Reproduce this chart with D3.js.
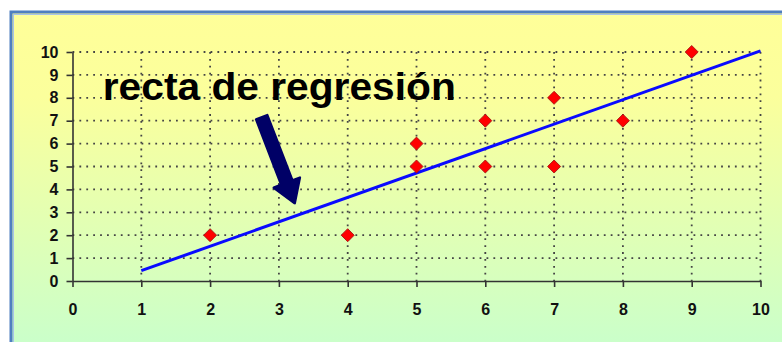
<!DOCTYPE html>
<html>
<head>
<meta charset="utf-8">
<script src="https://cdn.jsdelivr.net/npm/d3@7"></script>
<style>
  html, body { margin: 0; padding: 0; background: #fff; }
  svg { display: block; }
</style>
</head>
<body>
<div id="chart"></div>
<script>
// data
const pointsX = [2, 4, 5, 5, 6, 6, 7, 7, 8, 9];
const pointsY = [2, 2, 5, 6, 5, 7, 5, 8, 7, 10];
const lineX = [1, 10];
const lineY = [0.45, 10.05];
const xTicks = [0, 1, 2, 3, 4, 5, 6, 7, 8, 9, 10];
const yTicks = [0, 1, 2, 3, 4, 5, 6, 7, 8, 9, 10];
const annotation = "recta de regresión";

const width = 782, height = 342;
const margin = { top: 52, right: 21.5, bottom: 61, left: 72.5 };
const innerW = width - margin.left - margin.right;
const innerH = height - margin.top - margin.bottom;

const svg = d3.select("#chart").append("svg")
    .attr("width", width)
    .attr("height", height)
    .style("font-family", "Arial, 'Liberation Sans', sans-serif");

// background gradient
const defs = svg.append("defs");
const grad = defs.append("linearGradient")
    .attr("id", "bg").attr("x1", 0).attr("y1", 0).attr("x2", 0).attr("y2", 1);
grad.append("stop").attr("offset", "0%").attr("stop-color", "#ffff99");
grad.append("stop").attr("offset", "25%").attr("stop-color", "#fbff9c");
grad.append("stop").attr("offset", "100%").attr("stop-color", "#c8ffcc");

svg.append("rect")
    .attr("x", 11).attr("y", 12)
    .attr("width", width).attr("height", height)
    .attr("fill", "url(#bg)");
// frame
svg.append("rect")
    .attr("x", 11).attr("y", 12)
    .attr("width", width + 10).attr("height", height + 10)
    .attr("fill", "none")
    .attr("stroke", "#4f7fc0")
    .attr("stroke-width", 3);
svg.append("rect")
    .attr("x", 13.5).attr("y", 14.5)
    .attr("width", width + 10).attr("height", height + 10)
    .attr("fill", "none")
    .attr("stroke", "#a9c4e8")
    .attr("stroke-width", 1);

const g = svg.append("g")
    .attr("transform", `translate(${margin.left},${margin.top})`);

const x = d3.scaleLinear().domain([0, 10]).range([0, innerW]);
const y = d3.scaleLinear().domain([0, 10]).range([innerH, 0]);

// dotted grid
const gridColor = "#444";
g.append("g")
    .selectAll("line")
    .data(yTicks.filter(d => d > 0))
    .join("line")
    .attr("x1", 0).attr("x2", innerW)
    .attr("y1", d => y(d)).attr("y2", d => y(d))
    .attr("stroke", gridColor)
    .attr("stroke-width", 1.8)
    .attr("stroke-dasharray", "1.8,5.1");
g.append("g")
    .selectAll("line")
    .data(xTicks.filter(d => d > 0))
    .join("line")
    .attr("x1", d => x(d)).attr("x2", d => x(d))
    .attr("y1", 0).attr("y2", innerH)
    .attr("stroke", gridColor)
    .attr("stroke-width", 1.8)
    .attr("stroke-dasharray", "1.8,5.1");

// axes
const xAxis = g.append("g")
    .attr("transform", `translate(0,${innerH})`)
    .call(d3.axisBottom(x).tickValues(xTicks).tickSize(6).tickPadding(17).tickSizeOuter(0));
const yAxis = g.append("g")
    .call(d3.axisLeft(y).tickValues(yTicks).tickSize(6).tickPadding(8).tickSizeOuter(0));

[xAxis, yAxis].forEach(a => {
    a.select(".domain").attr("stroke", "#333").attr("stroke-width", 1.6);
    a.selectAll(".tick line").attr("stroke", "#333").attr("stroke-width", 1.6);
    a.selectAll(".tick text")
        .attr("fill", "#111")
        .style("font-size", "16px")
        .style("font-weight", "bold")
        .style("font-family", "Arial, 'Liberation Sans', sans-serif");
});

// regression line
const lineData = lineX.map((d, i) => [d, lineY[i]]);
g.append("path")
    .datum(lineData)
    .attr("d", d3.line().x(d => x(d[0])).y(d => y(d[1])))
    .attr("fill", "none")
    .attr("stroke", "#0a0aff")
    .attr("stroke-width", 3);

// diamonds
const pts = pointsX.map((d, i) => ({ x: d, y: pointsY[i] }));
g.selectAll(".pt")
    .data(pts)
    .join("path")
    .attr("class", "pt")
    .attr("d", d3.symbol().type(d3.symbolSquare).size(85))
    .attr("transform", d => `translate(${x(d.x)},${y(d.y)}) rotate(45)`)
    .attr("fill", "#ff0000")
    .attr("stroke", "#a01010")
    .attr("stroke-width", 0.8);

// annotation text
g.append("text")
    .attr("x", x(0.44))
    .attr("y", y(7.9))
    .attr("textLength", 353)
    .attr("lengthAdjust", "spacingAndGlyphs")
    .style("font-size", "38px")
    .style("font-weight", "bold")
    .attr("fill", "#000")
    .text(annotation);

// arrow (in data units)
const arrowFrom = [2.75, 7.15];
const arrowTo = [3.23, 3.4];
const ax0 = x(arrowFrom[0]), ay0 = y(arrowFrom[1]);
const ax1 = x(arrowTo[0]), ay1 = y(arrowTo[1]);
const ang = Math.atan2(ay1 - ay0, ax1 - ax0);
const len = Math.hypot(ax1 - ax0, ay1 - ay0);
const shaftW = 12, headW = 28, headL = 22;
const arrowPath = [
    [0, -shaftW / 2], [len - headL, -shaftW / 2], [len - headL, -headW / 2],
    [len, 0], [len - headL, headW / 2], [len - headL, shaftW / 2], [0, shaftW / 2]
];
g.append("path")
    .attr("d", d3.line()(arrowPath) + "Z")
    .attr("transform", `translate(${ax0},${ay0}) rotate(${ang * 180 / Math.PI})`)
    .attr("fill", "#000066")
    .attr("stroke", "#000066")
    .attr("stroke-width", 2.5)
    .attr("stroke-linejoin", "round");
</script>
</body>
</html>
